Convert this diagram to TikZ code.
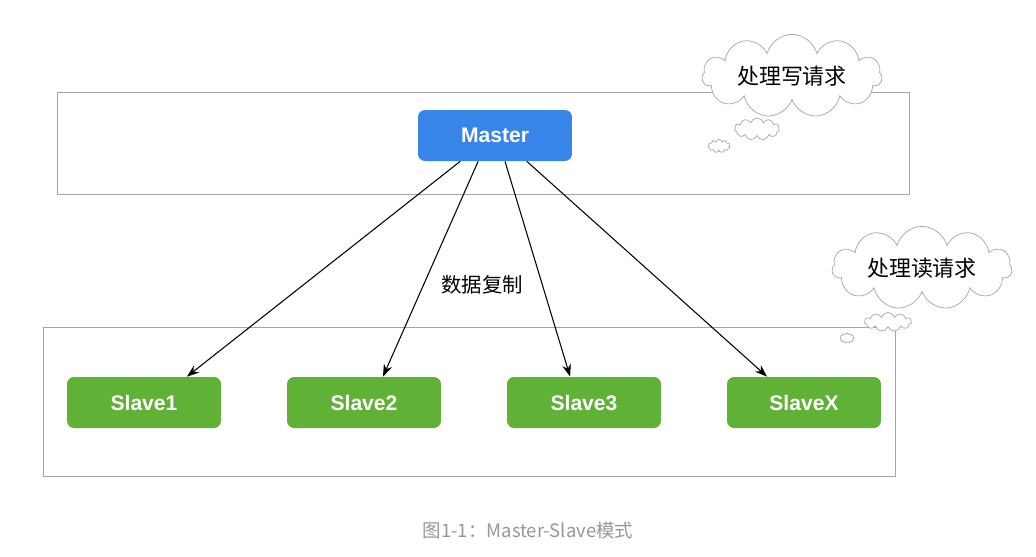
\documentclass[tikz,border=0pt]{standalone}
\usepackage{fontspec}
\setmainfont{Liberation Sans}
\newfontfamily\cjk{Noto Sans CJK SC}
\usetikzlibrary{arrows.meta,positioning,shapes.symbols}
\definecolor{masterBlue}{RGB}{55,133,232}
\definecolor{slaveGreen}{RGB}{96,178,55}
\definecolor{frameGray}{RGB}{165,165,165}
\definecolor{captionGray}{RGB}{150,150,150}

\begin{document}
\begin{tikzpicture}[x=0.02cm, y=-0.02cm,
    role/.style={rounded corners=4pt, minimum width=3.08cm, minimum height=1.02cm, text=white, font=\fontsize{12}{14}\selectfont\bfseries},
    thought/.style={cloud, cloud puffs=11, aspect=2.4, draw=frameGray, fill=white, inner sep=0pt, font=\cjk\fontsize{12.5}{15}\selectfont},
    repl/.style={-{Stealth[length=7pt,width=5pt]}, line width=0.6pt}]
    \useasboundingbox (0,0) rectangle (1036,556);

    % Box for the write side
    \draw[frameGray] (57,92) rectangle (909,194);
    \node[role, fill=masterBlue] (master) at (495,135.5) {Master};

    % Box for the read side
    \draw[frameGray] (43,327) rectangle (895,476);
    \node[role, fill=slaveGreen] (slave1) at (144,402.5) {Slave1};
    \node[role, fill=slaveGreen] (slave2) at (364,402.5) {Slave2};
    \node[role, fill=slaveGreen] (slave3) at (584,402.5) {Slave3};
    \node[role, fill=slaveGreen] (slavex) at (804,402.5) {SlaveX};

    % Replication arrows
    \draw[repl] ([xshift=-19.8pt]master.south) -- ([xshift=24.4pt]slave1.north);
    \draw[repl] ([xshift=-9.6pt]master.south) -- ([xshift=10.8pt]slave2.north);
    \draw[repl] ([xshift=5.7pt]master.south) -- ([xshift=-7.9pt]slave3.north);
    \draw[repl] ([xshift=18.1pt]master.south) -- ([xshift=-21pt]slavex.north);
    \node[font=\cjk\fontsize{11.6}{14}\selectfont] (repllabel) at (482,285) {数据复制};

    % Thought clouds
    \node[thought, aspect=3, minimum width=3.6cm, minimum height=1cm] (writecloud) at (792,76) {处理写请求};
    \node[thought, minimum width=0.9cm, minimum height=0.44cm] (writepuff) at (757,129) {};
    \node[thought, minimum width=0.44cm, minimum height=0.26cm] (writedot) at (719,146) {};
    \node[thought, aspect=3, minimum width=3.6cm, minimum height=1cm] (readcloud) at (922,268) {处理读请求};
    \node[thought, minimum width=0.94cm, minimum height=0.38cm] (readpuff) at (888,322) {};
    \node[thought, minimum width=0.28cm, minimum height=0.2cm] (readdot) at (847,338) {};

    % Caption
    \node[text=captionGray, font=\cjk\fontsize{10.5}{12}\selectfont] (caption) at (528,530) {图1-1：Master-Slave模式};
\end{tikzpicture}
\end{document}
